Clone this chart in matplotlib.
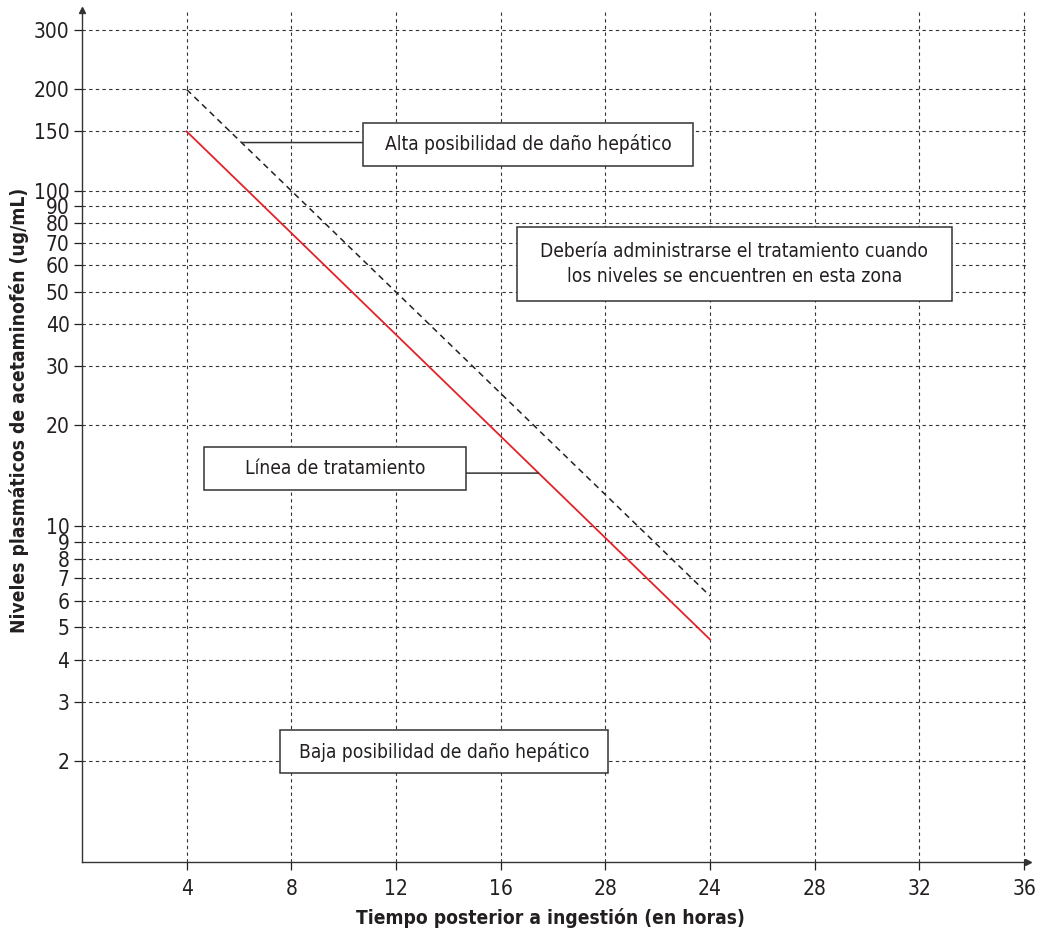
import matplotlib
matplotlib.use("Agg")
import matplotlib.pyplot as plt
from matplotlib.patches import Rectangle
import numpy as np

plt.rcParams['font.family'] = ['DejaVu Sans']
plt.rcParams['font.stretch'] = 'condensed'

# Data
hours_line = [4, 24]
high_risk_line = [200, 6.2]      # dashed line
treatment_line = [150, 4.6]      # red line
x_ticks = [4, 8, 12, 16, 20, 24, 28, 32, 36]
x_tick_labels = ["4", "8", "12", "16", "28", "24", "28", "32", "36"]
y_ticks = [300, 200, 150, 100, 90, 80, 70, 60, 50, 40, 30, 20, 10, 9, 8, 7, 6, 5, 4, 3, 2]
y_tick_labels = [str(v) for v in y_ticks]

TXT = "#231f20"
W, H = 1044, 938
fig = plt.figure(figsize=(W / 100, H / 100), dpi=100)
AX_L, AX_R, AX_T, AX_B = 82, 1028, 10, 862
ax = fig.add_axes([AX_L / W, 1 - AX_B / H, (AX_R - AX_L) / W, (AX_B - AX_T) / H])
ax.set_yscale('log')
ax.set_xlim(0, 36.15)
ax.set_ylim(1, 345)

ax.plot(hours_line, high_risk_line, color="#222222", lw=1.1, ls=(0, (4, 3)), zorder=2)
ax.plot(hours_line, treatment_line, color="#e3232b", lw=1.3, zorder=2)

ax.set_yticks(y_ticks)
ax.set_yticklabels(y_tick_labels)
ax.yaxis.set_minor_locator(matplotlib.ticker.NullLocator())
ax.set_xticks(x_ticks)
ax.set_xticklabels(x_tick_labels)
ax.tick_params(axis='both', labelsize=15, colors=TXT, length=6, width=0.9)
ax.tick_params(axis='x', pad=6)
ax.tick_params(axis='y', pad=3)
ax.grid(True, which='major', ls=(0, (3, 3)), color="#333333", lw=0.8)
for s in ['top', 'right']:
    ax.spines[s].set_visible(False)
for s in ['left', 'bottom']:
    ax.spines[s].set_linewidth(1.0)
    ax.spines[s].set_color("#333333")
ax.plot(1, 0, marker='>', color="#333333", ms=5, transform=ax.transAxes, clip_on=False)
ax.plot(0, 1, marker='^', color="#333333", ms=5, transform=ax.transAxes, clip_on=False)

fig.text(550 / W, 1 - 918 / H, "Tiempo posterior a ingestión (en horas)", fontsize=13.8,
         fontweight='bold', color=TXT, ha='center', va='center')
fig.text(19 / W, 1 - 410 / H, "Niveles plasmáticos de acetaminofén (ug/mL)", fontsize=13.8,
         fontweight='bold', color=TXT, ha='center', va='center', rotation=90)


def fx(px):
    return (px - AX_L) / (AX_R - AX_L)


def fy(py):
    return (AX_B - py) / (AX_B - AX_T)


def box(x0, y0, x1, y1, text, ls=1.25):
    ax.add_patch(Rectangle((fx(x0), fy(y1)), fx(x1) - fx(x0), fy(y0) - fy(y1),
                           transform=ax.transAxes, fc='white', ec='#333333', lw=1.1,
                           zorder=4, clip_on=False))
    ax.text(fx((x0 + x1) / 2), fy((y0 + y1) / 2), text, transform=ax.transAxes,
            ha='center', va='center', fontsize=13.8, color=TXT, zorder=5, linespacing=ls)


box(363, 123, 693, 166, "Alta posibilidad de daño hepático")
box(517, 227, 952, 301, "Debería administrarse el tratamiento cuando\nlos niveles se encuentren en esta zona", ls=1.45)
box(204, 447, 466, 490, "Línea de tratamiento")
box(280, 730, 608, 773, "Baja posibilidad de daño hepático")

# connectors from curves to boxes
ax.annotate("", xy=(6.1, 139), xycoords='data', xytext=(fx(363), 139),
            textcoords=('axes fraction', 'data'),
            arrowprops=dict(arrowstyle='-', color='#333333', lw=1.1, shrinkA=0, shrinkB=0), zorder=3)
ax.annotate("", xy=(17.44, 14.4), xycoords='data', xytext=(fx(466), 14.4),
            textcoords=('axes fraction', 'data'),
            arrowprops=dict(arrowstyle='-', color='#333333', lw=1.1, shrinkA=0, shrinkB=0), zorder=3)

fig.savefig("out.png", dpi=100)
